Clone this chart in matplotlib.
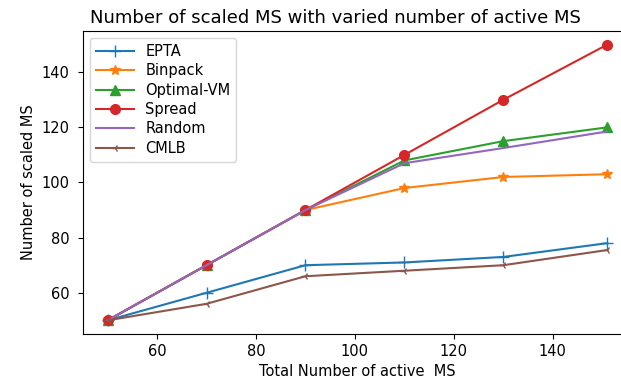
import matplotlib
matplotlib.use("Agg")
import matplotlib.pyplot as plt

x_ms = [50, 70, 90, 110, 130, 151]
epta = [50, 60, 70, 71, 73, 78]
binpack = [50, 70, 90, 98, 102, 103]
optimal_vm = [50, 70, 90, 108, 115, 120]
spread = [50, 70, 90, 110, 130, 150]
random_ = [50, 70, 90, 107, 112.5, 118.5]
cmlb = [50, 56, 66, 68, 70, 75.5]

fig = plt.figure(figsize=(6.21, 3.81), dpi=100)
ax = fig.add_axes([0.133, 0.123, 0.885, 0.796])

ax.plot(x_ms, epta, marker='+', markersize=8, color='#1f77b4', label='EPTA')
ax.plot(x_ms, binpack, marker='*', markersize=7, color='#ff7f0e', label='Binpack')
ax.plot(x_ms, optimal_vm, marker='^', markersize=7, color='#2ca02c', label='Optimal-VM')
ax.plot(x_ms, spread, marker='o', markersize=7, color='#d62728', label='Spread')
ax.plot(x_ms, random_, color='#9467bd', label='Random')
ax.plot(x_ms, cmlb, marker='3', markersize=6, color='#8c564b', label='CMLB')

ax.set_title('Number of scaled MS with varied number of active MS', fontsize=13, x=0.46)
ax.set_xlabel('Total Number of active  MS', fontsize=10.5)
ax.set_ylabel('Number of scaled MS', fontsize=10.5)
ax.tick_params(labelsize=10.5)
ax.tick_params(axis='y', pad=6)
ax.legend(loc='upper left', fontsize=10.5, handlelength=2.6, labelspacing=0.3)

fig.savefig('out.png', dpi=100)
